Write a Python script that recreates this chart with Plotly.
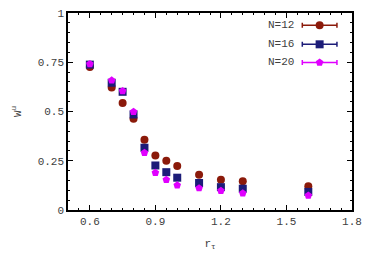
import plotly.graph_objects as go

r_tau = [0.6, 0.7, 0.75, 0.8, 0.85, 0.9, 0.95, 1.0, 1.1, 1.2, 1.3, 1.6]
w_n12 = [0.726, 0.622, 0.543, 0.463, 0.357, 0.277, 0.250, 0.223, 0.179, 0.153, 0.146, 0.121]
w_n16 = [0.738, 0.646, 0.600, 0.485, 0.316, 0.226, 0.192, 0.164, 0.137, 0.116, 0.108, 0.092]
w_n20 = [0.741, 0.658, 0.604, 0.499, 0.291, 0.189, 0.153, 0.126, 0.111, 0.098, 0.085, 0.074]

series_names = ["N=12", "N=16", "N=20"]
series_colors = ["#8b1a0a", "#1c1c78", "#e000ff"]
series_symbols = ["circle", "square", "pentagon"]
series_sizes = [8, 8, 8]
series_vals = [w_n12, w_n16, w_n20]

x_ticks = [0.6, 0.9, 1.2, 1.5, 1.8]
y_ticks = [0, 0.25, 0.5, 0.75, 1]
y_ticklabels = ["0", "0.25", "0.5", "0.75", "1"]

FONT = "'Liberation Mono', 'Courier New', monospace"
TXT = "#404040"

fig = go.Figure()
for name, col, sym, sz, vals in zip(series_names, series_colors, series_symbols, series_sizes, series_vals):
    fig.add_trace(go.Scatter(
        x=r_tau, y=vals, mode="markers", name=name, showlegend=False,
        marker=dict(color=col, symbol=sym, size=sz, line=dict(width=0)),
    ))

# custom legend (text left, sample right) on overlay axes
leg_y = [0.9375, 0.841, 0.749]
for name, col, sym, sz, ly in zip(series_names, series_colors, series_symbols, series_sizes, leg_y):
    fig.add_trace(go.Scatter(
        x=[0.886], y=[ly], mode="markers", xaxis="x2", yaxis="y2", showlegend=False,
        marker=dict(color=col, symbol=sym, size=sz, line=dict(width=0)),
        error_x=dict(type="data", array=[0.061], color=col, thickness=1.5, width=2.5),
        hoverinfo="skip",
    ))
    fig.add_annotation(x=0.803, y=ly, xref="x2", yref="y2", text=name, showarrow=False,
                       xanchor="right", yanchor="middle",
                       font=dict(family=FONT, size=11, color=TXT))

axis_common = dict(showline=True, linecolor="black", linewidth=1.5, mirror="ticks",
                   ticks="inside", ticklen=5, tickcolor="black", tickwidth=1,
                   showgrid=False, zeroline=False, automargin=False,
                   ticklabeloverflow="allow",
                   tickfont=dict(family=FONT, size=11, color=TXT))

# page body has an 8px default margin, so the figure is sized to fit the window
fig.update_layout(
    width=366, height=254,
    margin=dict(l=60, r=22, t=5, b=52, autoexpand=False),
    plot_bgcolor="white", paper_bgcolor="white",
    xaxis=dict(range=[0.5, 1.8], tickvals=x_ticks, ticktext=[str(v) for v in x_ticks],
               minor=dict(ticks="inside", dtick=0.05, tick0=0.5, ticklen=2.5, tickcolor="black", tickwidth=1),
               title=dict(text="r<sub>τ</sub>", font=dict(family=FONT, size=11, color=TXT), standoff=12),
               **axis_common),
    yaxis=dict(range=[0, 1], tickvals=y_ticks, ticktext=y_ticklabels,
               minor=dict(ticks="inside", dtick=0.05, tick0=0, ticklen=2.5, tickcolor="black", tickwidth=1),
               title=dict(text="W<sup>u</sup>", font=dict(family=FONT, size=11, color=TXT), standoff=14),
               **axis_common),
    xaxis2=dict(overlaying="x", range=[0, 1], visible=False, domain=[0, 1]),
    yaxis2=dict(overlaying="y", range=[0, 1], visible=False),
    showlegend=False,
)

fig.write_html("out.html")
